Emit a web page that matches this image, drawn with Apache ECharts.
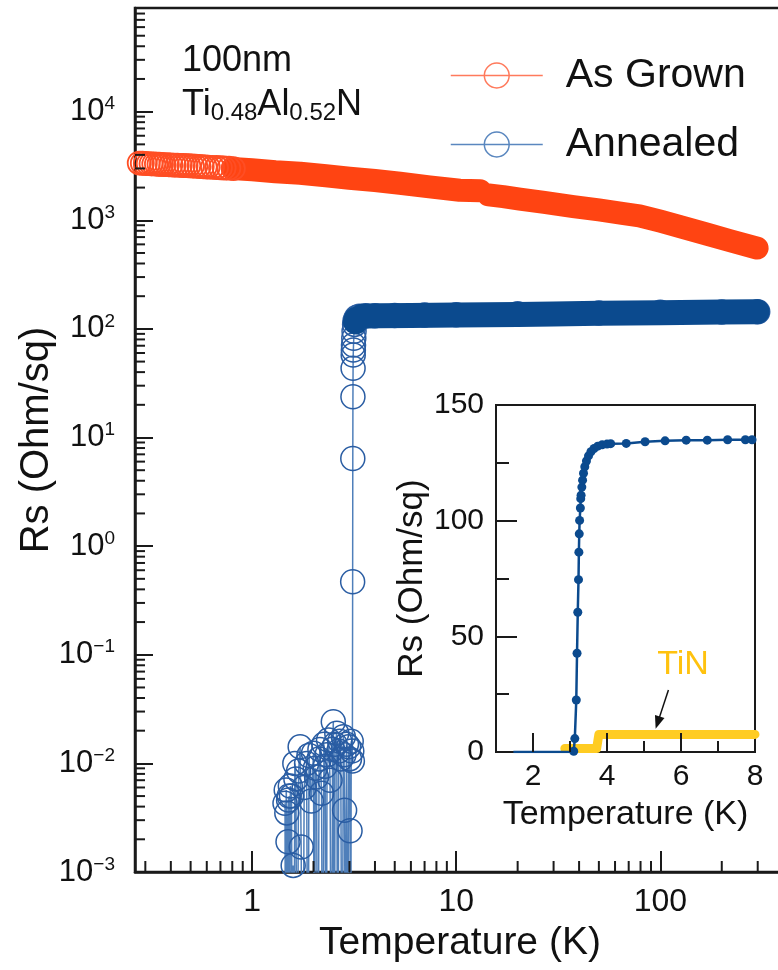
<!DOCTYPE html>
<html>
<head>
<meta charset="utf-8">
<script src="https://cdn.jsdelivr.net/npm/echarts@6/dist/echarts.min.js"></script>
<style>
	html, body { margin: 0; padding: 0; background: #fff; overflow: hidden; }
	#chart { width: 830px; height: 970px; }
</style>
</head>
<body>
<div id="chart"></div>
<script>
	// As grown: low-T part where the single rings can still be seen
	var agRingT = [0.28, 0.29, 0.30, 0.31, 0.32, 0.33, 0.34, 0.35, 0.36, 0.37, 0.385, 0.40, 0.415, 0.43, 0.445, 0.46, 0.475, 0.49, 0.51, 0.53,
		0.55, 0.57, 0.59, 0.61, 0.64, 0.67, 0.70, 0.73, 0.77, 0.81];
	var agRingRs = [3360, 3350, 3335, 3320, 3310, 3300, 3290, 3280, 3270, 3260, 3250, 3235, 3225, 3215, 3205, 3195, 3185, 3175, 3160, 3145,
		3130, 3115, 3100, 3090, 3075, 3060, 3045, 3030, 3015, 2995];

	// As grown: dense part (points overlap into a band), null = small gap near 14 K
	var agBandT = [0.8, 1.0, 1.3, 1.72, 2.3, 3.0, 4.0, 5.3, 7.4, 10.4, 13.1, 13.7, 14.4, 17, 20.5, 27, 37.5, 50, 65, 79, 100, 130, 169, 220, 298];
	var agBandRs = [3000, 2920, 2800, 2710, 2570, 2440, 2320, 2190, 2030, 1890, 1870, null, 1715, 1650, 1565, 1460, 1335, 1245, 1160, 1100, 980, 855, 745, 647, 555];

	// Annealed: noisy zero below Tc (1e-5 = off the bottom of the axis), transition, plateau
	var anT = [1.45, 1.46, 1.47, 1.48, 1.49, 1.50, 1.51, 1.52, 1.53, 1.54, 1.56, 1.58, 1.59, 1.60, 1.62, 1.64, 1.66, 1.69, 1.72, 1.74,
		1.77, 1.80, 1.85, 1.88, 1.90, 1.95, 2.00, 2.02, 2.04, 2.07, 2.10, 2.13, 2.15, 2.19, 2.22, 2.25, 2.28, 2.31, 2.33, 2.37,
		2.41, 2.45, 2.48, 2.50, 2.53, 2.55, 2.60, 2.63, 2.66, 2.69, 2.72, 2.76, 2.80, 2.82, 2.84, 2.87, 2.90, 2.94, 2.97, 3.00,
		3.02, 3.04, 3.06, 3.08, 3.10,
		3.11, 3.115, 3.12, 3.125, 3.13, 3.135, 3.14, 3.15, 3.16, 3.18, 3.20, 3.25, 3.35, 3.6, 4.0, 5, 7, 10, 20, 50, 100, 200, 300];
	var anRs = [0.0043, 1e-5, 0.0057, 0.0035, 1e-5, 0.0019, 0.0046, 0.0050, 1e-5, 0.0062, 0.0050, 1e-5, 0.00115, 1e-5, 0.0100, 0.0072, 1e-5, 0.0085, 0.0142, 0.0017,
		1e-5, 0.0060, 0.0100, 1e-5, 0.0118, 0.0045, 0.0124, 1e-5, 0.0090, 0.0075, 1e-5, 0.0110, 0.0134, 0.0053, 1e-5, 0.0150, 0.0094, 1e-5, 0.0120, 0.0164,
		0.0070, 1e-5, 0.0135, 0.0242, 1e-5, 0.0150, 0.0189, 1e-5, 0.0130, 0.0160, 0.0110, 1e-5, 0.0176, 0.0120, 0.0037, 1e-5, 0.0150, 1e-5, 0.0142, 0.0110,
		0.0024, 1e-5, 0.0160, 0.0130, 0.0105,
		0.47, 6.4, 23.7, 43.4, 57.5, 64, 71, 82, 95, 110, 120, 127, 131, 132, 132, 133, 134, 135, 138, 140, 142, 143, 144];

	// Annealed: dense plateau part (band)
	var anBandT = [3.21, 3.24, 3.3, 3.45, 3.7, 4.2, 6, 10, 20, 30, 50, 100, 200, 298];
	var anBandRs = [116, 123, 128, 130.5, 131.5, 132, 132.5, 134, 136, 137, 139, 141, 143, 144];

	// inset, linear scale
	var insetT = [1.47, 2.0, 2.5, 3.0, 3.1, 3.13, 3.17, 3.19, 3.21, 3.23, 3.24, 3.25, 3.26, 3.28, 3.29, 3.30, 3.32, 3.34, 3.365, 3.40,
		3.445, 3.50, 3.565, 3.65, 3.75, 3.87, 4.0, 4.1, 4.52, 5.03, 5.57, 6.14, 6.71, 7.26, 7.74, 7.92];
	var insetRs = [0, 0, 0, 0, 0.3, 5.8, 22.5, 42.7, 60.4, 74.5, 86.4, 94.3, 100.1, 105.5, 109.5, 111, 114.5, 117.5, 120.5, 123.3,
		125.8, 128, 129.8, 131.2, 132.2, 132.8, 133.1, 133.3, 133.4, 134.1, 134.5, 134.8, 134.8, 135, 135, 135];
	var tinT = [2.86, 3.72, 3.78, 8.0];
	var tinRs = [1.5, 1.5, 7.6, 7.6];
	var arrowFrom = [5.66, 26.8];
	var arrowTo = [5.37, 12.7];

	// axes
	var xMin = 0.267, xMax = 500, yMin = 0.001, yMax = 90000;
	var insetXLabels = [2, 4, 6, 8];
	var insetXMajor = [2, 4, 6];
	var insetXMinor = [3, 5, 7];

	var FONT = 'Liberation Sans, Arial, Helvetica, sans-serif';
	var INK = '#1a1a1a';

	function pairs(xs, ys) {
		return xs.map(function(x, i) { return ys[i] == null ? [x, '-'] : [x, ys[i]]; });
	}

	// 2..9 x 10^n between lo and hi
	function logMinor(lo, hi) {
		var out = [];
		for (var e = -4; e <= 5; e++) {
			for (var m = 2; m <= 9; m++) {
				var v = m * Math.pow(10, e);
				if (v > lo * 1.001 && v < hi * 0.999) out.push(v);
			}
		}
		return out;
	}

	function isPow10(v) {
		var e = Math.log10(v);
		return Math.abs(e - Math.round(e)) < 1e-6;
	}

	function supExp(e) { return e < 0 ? '\u2212' + (-e) : '' + e; }

	function tickLayer(xi, yi, pts, vertical, len) {
		return {
			type: 'custom', xAxisIndex: xi, yAxisIndex: yi, silent: true, z: 6,
			data: pts,
			renderItem: function(params, api) {
				var p = api.coord([api.value(0), api.value(1)]);
				var q = vertical ? [p[0], p[1] - len] : [p[0] + len, p[1]];
				return { type: 'line', shape: { x1: p[0], y1: p[1], x2: q[0], y2: q[1] }, style: { stroke: INK, lineWidth: 2 } };
			}
		};
	}

	var chart = echarts.init(document.getElementById('chart'));

	var option = {
		animation: false,
		backgroundColor: '#fff',
		grid: [
			{ left: 135, top: 8, right: 27, bottom: 98, show: true, borderColor: INK, borderWidth: 2.5, outerBoundsMode: 'none' },
			{ left: 496, top: 405, width: 259, height: 347, show: true, borderColor: INK, borderWidth: 2, backgroundColor: '#fff', outerBoundsMode: 'none' }
		],
		legend: {
			left: 450, top: 55, padding: 0, orient: 'vertical', selectedMode: false,
			itemWidth: 92, itemHeight: 31, itemGap: 28,
			textStyle: { fontSize: 41, fontFamily: FONT, color: '#111', lineHeight: 31, padding: [0, 0, 0, 18] },
			data: [
				{ name: 'As Grown', itemStyle: { color: 'rgba(0,0,0,0)', borderColor: '#FF7A5C', borderWidth: 1.5 }, lineStyle: { color: '#FF7A5C', width: 1.5, opacity: 1 } },
				{ name: 'Annealed', itemStyle: { color: 'rgba(0,0,0,0)', borderColor: '#5A87BF', borderWidth: 1.5 }, lineStyle: { color: '#5A87BF', width: 1.5, opacity: 1 } }
			]
		},
		xAxis: [
			{
				type: 'log', logBase: 10, gridIndex: 0, min: xMin, max: xMax,
				axisLine: { lineStyle: { color: INK, width: 2.5 } },
				axisTick: { inside: true, length: 21, lineStyle: { color: INK, width: 2 } },
				axisLabel: {
					fontSize: 32, fontFamily: FONT, color: '#111', margin: 14,
					formatter: function(v) { return isPow10(v) ? String(Math.round(v)) : ''; }
				},
				splitLine: { show: false },
				name: 'Temperature (K)', nameLocation: 'middle', nameGap: 52, nameMoveOverlap: false,
				nameTextStyle: { fontSize: 39, fontFamily: FONT, color: '#111', padding: [0, 18, 0, 0] }
			},
			{
				type: 'value', gridIndex: 1, min: 1, max: 8, interval: 1,
				axisLine: { lineStyle: { color: INK, width: 2 } },
				axisTick: { show: false },
				axisLabel: {
					fontSize: 30, fontFamily: FONT, color: '#111', margin: 10,
					formatter: function(v) { return insetXLabels.indexOf(v) >= 0 ? String(v) : ''; }
				},
				splitLine: { show: false },
				name: 'Temperature (K)', nameLocation: 'middle', nameGap: 46, nameMoveOverlap: false,
				nameTextStyle: { fontSize: 34, fontFamily: FONT, color: '#111' }
			}
		],
		yAxis: [
			{
				type: 'log', logBase: 10, gridIndex: 0, min: yMin, max: yMax,
				axisLine: { lineStyle: { color: INK, width: 2.5 } },
				axisTick: { inside: true, length: 18, lineStyle: { color: INK, width: 2 } },
				axisLabel: {
					margin: 20, color: '#111',
					formatter: function(v) {
						if (!isPow10(v)) return '';
						return '{b|10}{s|' + supExp(Math.round(Math.log10(v))) + '}';
					},
					rich: {
						b: { fontSize: 31, lineHeight: 34, fontFamily: FONT, color: '#111' },
						s: { fontSize: 19, lineHeight: 22, verticalAlign: 'top', fontFamily: FONT, color: '#111' }
					}
				},
				splitLine: { show: false },
				name: 'Rs (Ohm/sq)', nameLocation: 'middle', nameGap: 78, nameMoveOverlap: false,
				nameTextStyle: { fontSize: 40, fontFamily: FONT, color: '#111' }
			},
			{
				type: 'value', gridIndex: 1, min: 0, max: 150, interval: 50,
				axisLine: { lineStyle: { color: INK, width: 2 } },
				axisTick: { inside: true, length: 21, lineStyle: { color: INK, width: 2 } },
				minorTick: { show: true, splitNumber: 2, length: 13, lineStyle: { color: INK, width: 2 } },
				axisLabel: { fontSize: 30, fontFamily: FONT, color: '#111', margin: 12 },
				splitLine: { show: false },
				minorSplitLine: { show: false },
				name: 'Rs (Ohm/sq)', nameLocation: 'middle', nameGap: 66, nameMoveOverlap: false,
				nameTextStyle: { fontSize: 35, fontFamily: FONT, color: '#111' }
			}
		],
		series: [
			{
				name: 'agBand', type: 'line', xAxisIndex: 0, yAxisIndex: 0, z: 2,
				data: pairs(agBandT, agBandRs), symbol: 'none', connectNulls: false,
				lineStyle: { color: '#FF4412', width: 23, cap: 'round', join: 'round' }
			},
			{
				name: 'As Grown', type: 'line', xAxisIndex: 0, yAxisIndex: 0, z: 3,
				data: pairs(agRingT, agRingRs), symbol: 'circle', symbolSize: 23,
				itemStyle: { color: 'rgba(0,0,0,0)', borderColor: '#FF4E24', borderWidth: 1.8 },
				lineStyle: { color: '#FF4E24', width: 1.5, opacity: 0 }
			},
			{
				name: 'anBand', type: 'line', xAxisIndex: 0, yAxisIndex: 0, z: 4,
				data: pairs(anBandT, anBandRs), symbol: 'none',
				lineStyle: { color: '#0B4A8E', width: 25, cap: 'round', join: 'round' }
			},
			{
				name: 'Annealed', type: 'line', xAxisIndex: 0, yAxisIndex: 0, z: 3,
				data: pairs(anT, anRs), symbol: 'circle', symbolSize: 24,
				itemStyle: { color: 'rgba(0,0,0,0)', borderColor: '#2A5DA3', borderWidth: 1.5 },
				lineStyle: { color: '#4F7FBA', width: 1.5 }
			},
			tickLayer(0, 0, logMinor(xMin, xMax).map(function(v) { return [v, yMin]; }), true, 11),
			tickLayer(0, 0, logMinor(yMin, yMax).map(function(v) { return [xMin, v]; }), false, 10),
			{
				name: 'inset', type: 'line', xAxisIndex: 1, yAxisIndex: 1, z: 4,
				data: pairs(insetT, insetRs).map(function(p) {
					return p[1] === 0 ? { value: p, symbol: 'none' } : p;
				}),
				symbol: 'circle', symbolSize: 9,
				itemStyle: { color: '#0B4A8E' },
				lineStyle: { color: '#0B4A8E', width: 2.5 }
			},
			{
				name: 'TiN', type: 'line', xAxisIndex: 1, yAxisIndex: 1, z: 3,
				data: pairs(tinT, tinRs), symbol: 'none',
				lineStyle: { color: '#FFCC22', width: 9, cap: 'round', join: 'round' },
				markLine: {
					silent: true, symbol: ['none', 'triangle'], symbolSize: 12,
					label: { show: false },
					lineStyle: { color: '#111', width: 1.5, type: 'solid' },
					data: [[{ coord: arrowFrom, symbol: 'none' }, { coord: arrowTo, symbol: 'triangle', symbolSize: [10, 13] }]]
				}
			},
			tickLayer(1, 1, insetXMajor.map(function(v) { return [v, 0]; }), true, 19),
			tickLayer(1, 1, insetXMinor.map(function(v) { return [v, 0]; }), true, 11)
		],
		graphic: [
			{
				type: 'text', x: 182, y: 61, z: 10,
				style: { text: '100nm', fontSize: 36, fontFamily: FONT, fill: '#111', align: 'left', verticalAlign: 'middle' }
			},
			{
				type: 'text', x: 182, y: 105, z: 10,
				style: {
					text: '{n|Ti}{s|0.48}{n|Al}{s|0.52}{n|N}', align: 'left', verticalAlign: 'middle',
					rich: {
						n: { fontSize: 36, lineHeight: 40, fontFamily: FONT, fill: '#111' },
						s: { fontSize: 24, lineHeight: 18, verticalAlign: 'bottom', fontFamily: FONT, fill: '#111' }
					}
				}
			},
			{
				type: 'text', x: 683, y: 665, z: 10,
				style: { text: 'TiN', fontSize: 34, fontFamily: FONT, fill: '#FFC20E', align: 'center', verticalAlign: 'middle' }
			}
		]
	};

	chart.setOption(option);
</script>
</body>
</html>
